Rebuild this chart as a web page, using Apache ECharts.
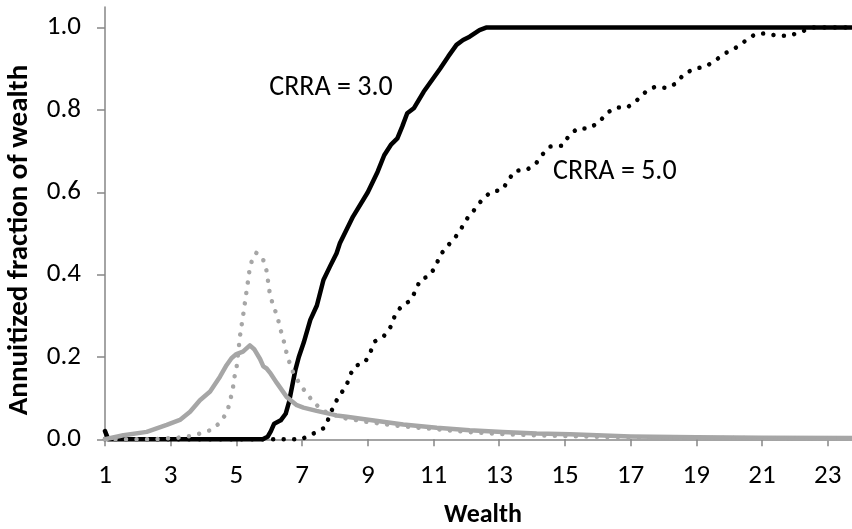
<!DOCTYPE html>
<html>
<head>
<meta charset="utf-8">
<script src="https://cdn.jsdelivr.net/npm/echarts@6/dist/echarts.min.js"></script>
<style>
html,body{margin:0;padding:0;background:#fff;}
#chart{width:852px;height:529px;}
</style>
</head>
<body>
<div id="chart"></div>
<script>
// ---- Data ----
const xTickValues = [1, 3, 5, 7, 9, 11, 13, 15, 17, 19, 21, 23];
const yTickValues = [0, 0.2, 0.4, 0.6, 0.8, 1.0];

// CRRA = 3.0 annuitized fraction (black solid)
const crra3X = [1.0, 1.1, 5.8, 5.95, 6.05, 6.15, 6.35, 6.5, 6.6, 6.7, 6.8, 6.9, 7.05, 7.25, 7.45, 7.65, 7.85, 8.05, 8.15, 8.55, 9.0, 9.3, 9.5, 9.7, 9.9, 10.05, 10.2, 10.4, 10.7, 11.2, 11.45, 11.7, 11.9, 12.1, 12.4, 12.6, 23.74];
const crra3Y = [0.02, 0.0, 0.0, 0.006, 0.02, 0.038, 0.046, 0.062, 0.09, 0.13, 0.17, 0.2, 0.235, 0.29, 0.325, 0.387, 0.42, 0.452, 0.476, 0.541, 0.6, 0.65, 0.69, 0.715, 0.731, 0.76, 0.792, 0.804, 0.844, 0.9, 0.93, 0.958, 0.97, 0.978, 0.994, 1.0, 1.0];

// CRRA = 5.0 annuitized fraction (black dotted)
const crra5X = [1.0, 7.0, 7.1, 7.4, 7.68, 7.83, 7.96, 8.15, 8.35, 8.46, 8.64, 8.91, 9.08, 9.22, 9.5, 9.71, 9.83, 10.03, 10.28, 10.46, 10.59, 10.87, 11.06, 11.2, 11.42, 11.65, 11.86, 12.04, 12.26, 12.49, 12.75, 13.1, 13.28, 13.48, 13.83, 14.11, 14.32, 14.56, 14.92, 15.12, 15.38, 15.73, 16.04, 16.27, 16.55, 16.9, 17.2, 17.46, 17.74, 18.1, 18.4, 18.62, 18.94, 19.28, 19.59, 19.89, 20.2, 20.48, 20.79, 21.12, 21.47, 21.82, 22.18, 22.5, 23.74];
const crra5Y = [0.0, 0.0, 0.005, 0.016, 0.028, 0.055, 0.082, 0.108, 0.13, 0.157, 0.179, 0.186, 0.212, 0.238, 0.252, 0.275, 0.302, 0.324, 0.336, 0.361, 0.387, 0.397, 0.419, 0.447, 0.469, 0.489, 0.514, 0.538, 0.559, 0.583, 0.601, 0.606, 0.63, 0.652, 0.654, 0.669, 0.692, 0.711, 0.713, 0.737, 0.755, 0.755, 0.77, 0.792, 0.806, 0.806, 0.824, 0.844, 0.856, 0.853, 0.865, 0.887, 0.9, 0.905, 0.921, 0.938, 0.951, 0.967, 0.984, 0.986, 0.98, 0.98, 0.989, 1.0, 1.0];

// Wealth distribution, CRRA = 3.0 (gray solid)
const dist3X = [1.0, 1.56, 2.27, 2.88, 3.28, 3.59, 3.89, 4.2, 4.5, 4.7, 4.85, 5.0, 5.2, 5.41, 5.55, 5.72, 5.82, 5.92, 6.02, 6.23, 6.53, 6.84, 7.04, 7.44, 8.05, 8.36, 9.07, 10.08, 11.1, 12.1, 13.1, 14.14, 15.16, 17.0, 19.0, 21.0, 23.74];
const dist3Y = [0.0, 0.01, 0.018, 0.035, 0.047, 0.067, 0.095, 0.116, 0.152, 0.18, 0.197, 0.207, 0.213, 0.228, 0.218, 0.195, 0.177, 0.172, 0.162, 0.137, 0.103, 0.083, 0.077, 0.069, 0.058, 0.055, 0.047, 0.036, 0.028, 0.022, 0.018, 0.014, 0.012, 0.007, 0.005, 0.004, 0.003];

// Wealth distribution, CRRA = 5.0 (gray dotted)
const dist5X = [1.0, 2.5, 3.23, 3.59, 3.94, 4.27, 4.53, 4.72, 4.81, 4.89, 4.94, 5.01, 5.05, 5.09, 5.13, 5.19, 5.24, 5.29, 5.34, 5.39, 5.47, 5.6, 5.72, 5.82, 5.92, 5.97, 6.02, 6.12, 6.25, 6.33, 6.43, 6.51, 6.61, 6.74, 6.91, 7.12, 7.34, 7.6, 7.85, 8.31, 9.0, 10.0, 11.0, 12.0, 13.0, 14.0, 16.0, 18.0, 20.0, 23.74];
const dist5Y = [0.0, 0.0, 0.004, 0.008, 0.015, 0.024, 0.043, 0.067, 0.094, 0.122, 0.151, 0.178, 0.207, 0.236, 0.264, 0.292, 0.321, 0.349, 0.377, 0.406, 0.434, 0.453, 0.448, 0.435, 0.409, 0.38, 0.352, 0.325, 0.298, 0.27, 0.243, 0.215, 0.188, 0.16, 0.137, 0.113, 0.091, 0.071, 0.062, 0.051, 0.042, 0.032, 0.025, 0.018, 0.013, 0.01, 0.006, 0.004, 0.003, 0.002];

const annotationTexts = ['CRRA = 3.0', 'CRRA = 5.0'];
const annotationX = [7.88, 16.52];
const annotationY = [0.853, 0.649];

const xTitle = 'Wealth';
const yTitle = 'Annuitized fraction of wealth';

// ---- Chart ----
const FONT = 'Carlito, Lato, sans-serif';
const AXIS_COLOR = '#868686';
const zip = (xs, ys) => xs.map((x, i) => [x, ys[i]]);

const chart = echarts.init(document.getElementById('chart'), null, {renderer: 'canvas'});

const dotted = [0.01, 10.5];

chart.setOption({
  animation: false,
  backgroundColor: '#ffffff',
  grid: {left: 105, right: 0, top: 7, bottom: 89.7, containLabel: false, outerBoundsMode: 'none'},
  xAxis: {
    type: 'value',
    min: 1,
    max: 23.74,
    axisLine: {show: true, onZero: true, lineStyle: {color: AXIS_COLOR, width: 1.5}},
    axisTick: {show: true, inside: false, length: 7, customValues: xTickValues, lineStyle: {color: AXIS_COLOR, width: 1.5}},
    axisLabel: {show: true, customValues: xTickValues, margin: 23, color: '#000', fontSize: 27, fontFamily: FONT},
    splitLine: {show: false}
  },
  yAxis: {
    type: 'value',
    min: 0,
    max: 1.05,
    axisLine: {show: true, lineStyle: {color: AXIS_COLOR, width: 1.5}},
    axisTick: {show: true, inside: false, length: 8, customValues: yTickValues, lineStyle: {color: AXIS_COLOR, width: 1.5}},
    axisLabel: {show: true, customValues: yTickValues, margin: 24, color: '#000', fontSize: 27, fontFamily: FONT,
      formatter: v => v.toFixed(1)},
    splitLine: {show: false}
  },
  graphic: [
    {type: 'text', x: 483, y: 515, style: {text: xTitle, fill: '#000', font: 'bold 26px ' + FONT, align: 'center', verticalAlign: 'middle'}},
    {type: 'text', x: 20, y: 240, rotation: Math.PI / 2, style: {text: yTitle, fill: '#000', font: 'bold 29px ' + FONT, align: 'center', verticalAlign: 'middle'}}
  ],
  series: [
    {
      name: 'CRRA 3.0', type: 'line', data: zip(crra3X, crra3Y), showSymbol: false, symbol: 'none', clip: false,
      lineStyle: {color: '#000', width: 4.5, cap: 'round', join: 'round'},
      markPoint: {
        symbol: 'circle', symbolSize: 1, silent: true, itemStyle: {color: 'rgba(0,0,0,0)'},
        label: {show: true, position: 'inside', formatter: '{b}', color: '#000', fontSize: 28, fontFamily: FONT},
        data: annotationTexts.map((t, i) => ({name: t, coord: [annotationX[i], annotationY[i]]}))
      }
    },
    {
      name: 'CRRA 5.0', type: 'line', data: zip(crra5X, crra5Y), showSymbol: false, symbol: 'none', clip: false,
      lineStyle: {color: '#000', width: 4.5, type: dotted, cap: 'round', join: 'round'}
    },
    {
      name: 'Distribution 3.0', type: 'line', data: zip(dist3X, dist3Y), showSymbol: false, symbol: 'none', clip: false,
      lineStyle: {color: '#A6A6A6', width: 4.5, cap: 'round', join: 'round'}
    },
    {
      name: 'Distribution 5.0', type: 'line', data: zip(dist5X, dist5Y), showSymbol: false, symbol: 'none', clip: false,
      lineStyle: {color: '#A6A6A6', width: 4.5, type: dotted, cap: 'round', join: 'round'}
    }
  ]
});
</script>
</body>
</html>
